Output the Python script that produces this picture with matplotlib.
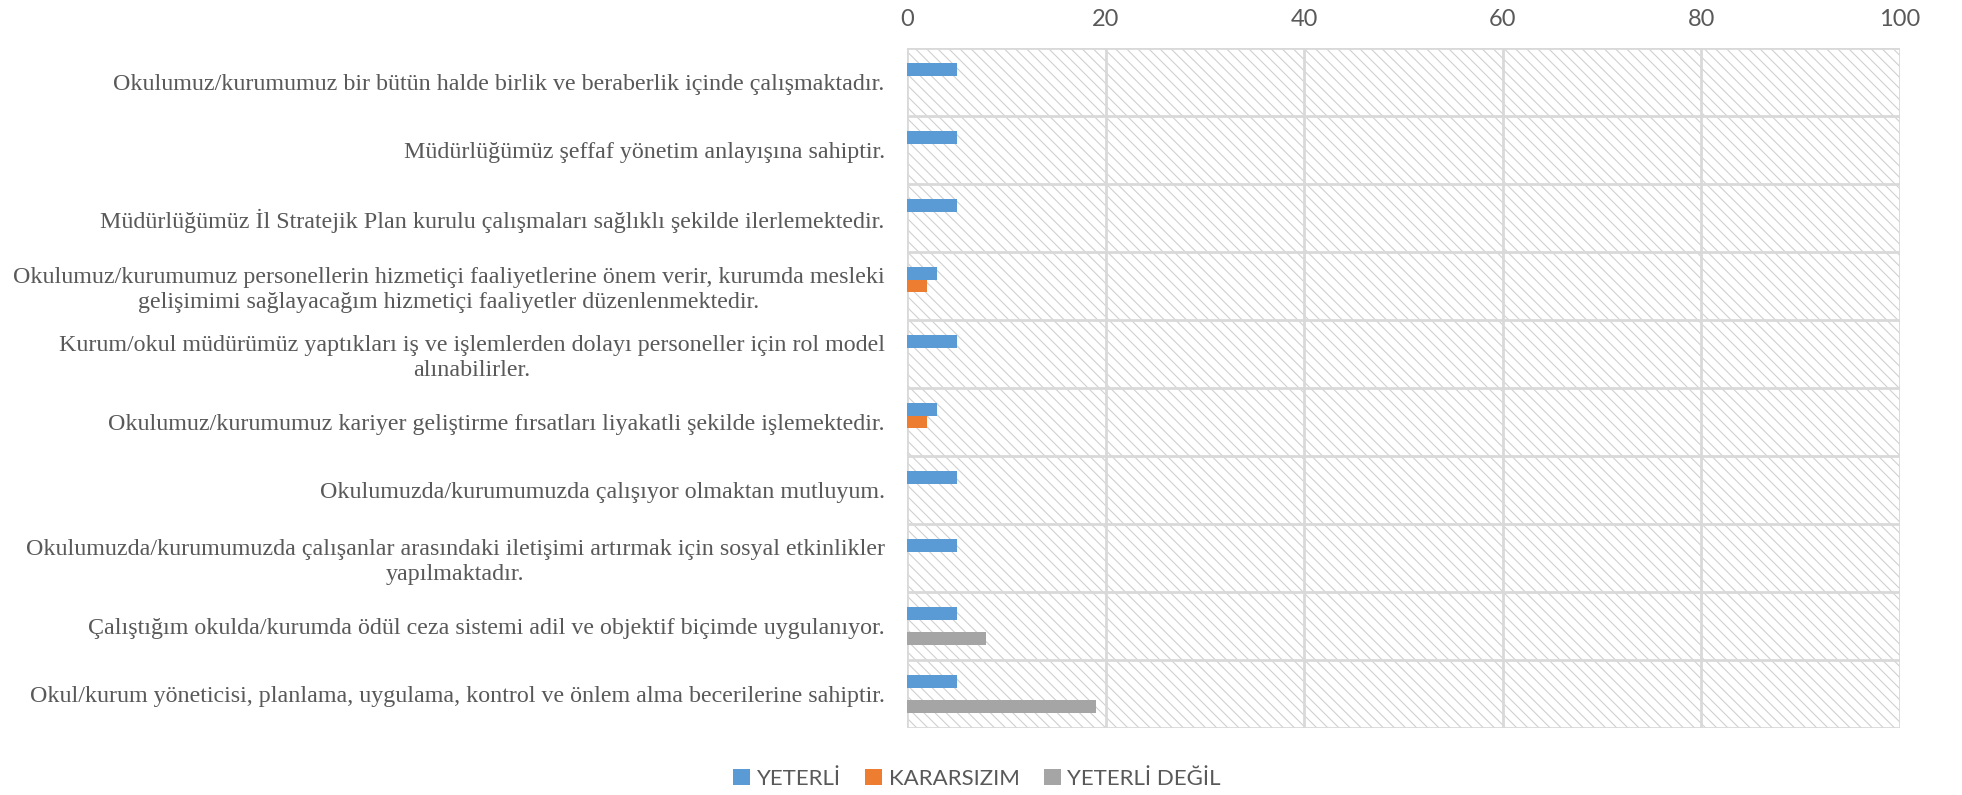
import matplotlib
matplotlib.use("Agg")
import matplotlib.pyplot as plt
import numpy as np
from matplotlib.patches import Rectangle

categories = [
    "Okulumuz/kurumumuz bir bütün halde birlik ve beraberlik içinde çalışmaktadır.",
    "Müdürlüğümüz şeffaf yönetim anlayışına sahiptir.",
    "Müdürlüğümüz İl Stratejik Plan kurulu çalışmaları sağlıklı şekilde ilerlemektedir.",
    "Okulumuz/kurumumuz personellerin hizmetiçi faaliyetlerine önem verir, kurumda mesleki\ngelişimimi sağlayacağım hizmetiçi faaliyetler düzenlenmektedir.",
    "Kurum/okul müdürümüz yaptıkları iş ve işlemlerden dolayı personeller için rol model\nalınabilirler.",
    "Okulumuz/kurumumuz kariyer geliştirme fırsatları liyakatli şekilde işlemektedir.",
    "Okulumuzda/kurumumuzda çalışıyor olmaktan mutluyum.",
    "Okulumuzda/kurumumuzda çalışanlar arasındaki iletişimi artırmak için sosyal etkinlikler\nyapılmaktadır.",
    "Çalıştığım okulda/kurumda ödül ceza sistemi adil ve objektif biçimde uygulanıyor.",
    "Okul/kurum yöneticisi, planlama, uygulama, kontrol ve önlem alma becerilerine sahiptir.",
]
series_names = ["YETERLİ", "KARARSIZIM", "YETERLİ DEĞİL"]
yeterli = [5, 5, 5, 3, 5, 3, 5, 5, 5, 5]
kararsizim = [0, 0, 0, 2, 0, 2, 0, 0, 0, 0]
yeterli_degil = [0, 0, 0, 0, 0, 0, 0, 0, 8, 19]
colors = ["#5B9BD5", "#ED7D31", "#A5A5A5"]
xticks = [0, 20, 40, 60, 80, 100]

plt.rcParams["hatch.linewidth"] = 0.8
plt.rcParams["hatch.color"] = "#d0d0d0"

fig = plt.figure(figsize=(19.62, 7.95), dpi=100)
ax = fig.add_axes([907 / 1962, 1 - 728 / 795, (1900 - 907) / 1962, (728 - 48) / 795])

n = len(categories)
y = np.arange(n)
bh = 0.183
for i, (vals, name, c) in enumerate(zip([yeterli, kararsizim, yeterli_degil], series_names, colors)):
    ax.barh(y + (i - 1) * bh, vals, height=bh, color=c, label=name, zorder=3)

ax.set_xlim(0, 100)
ax.set_ylim(n - 0.5, -0.5)
ax.add_patch(Rectangle((0, 0), 1, 1, transform=ax.transAxes, facecolor="white",
                       edgecolor="#d0d0d0", hatch="\\\\\\", linewidth=0, zorder=0))

ax.set_xticks(xticks)
ax.xaxis.tick_top()
ax.tick_params(axis="x", length=0, pad=13, labelsize=17, labelcolor="#595959")
for t in ax.get_xticklabels():
    t.set_fontfamily("Lato")
ax.grid(axis="x", color="#d9d9d9", linewidth=2, zorder=1)
for b in np.arange(n + 1) - 0.5:
    ax.axhline(b, color="#d9d9d9", linewidth=2, zorder=1)

ax.set_yticks(y)
ax.set_yticklabels(categories, fontfamily="Liberation Serif", fontsize=17.3, color="#595959",
                   multialignment="center", linespacing=1.2)
ax.tick_params(axis="y", length=0, pad=16)
for s in ax.spines.values():
    s.set_visible(False)

leg = fig.legend(loc="center", bbox_to_anchor=(977 / 1962, 1 - 779 / 795), ncol=3, frameon=False,
                 prop={"family": "Lato", "size": 16}, labelcolor="#595959",
                 handlelength=0.75, handleheight=0.75, handletextpad=0.3, columnspacing=1.1)

fig.savefig("out.png", dpi=100)
